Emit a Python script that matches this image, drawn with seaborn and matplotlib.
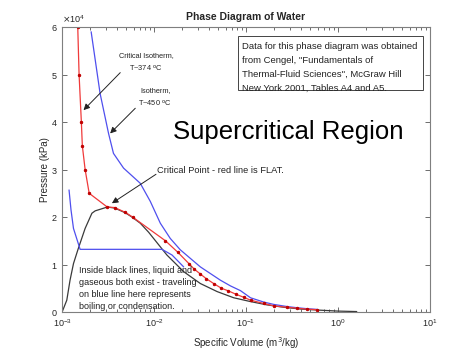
import numpy as np
import pandas as pd
import matplotlib
matplotlib.use("Agg")
import matplotlib.pyplot as plt
from matplotlib.patches import Rectangle
import seaborn as sns

# specific volume (m3/kg) and pressure (kPa)
# critical isotherm, T~374 C
crit_v = [1.48e-3, 1.53e-3, 1.62e-3, 1.66e-3, 1.78e-3, 1.97e-3, 3.1e-3, 3.72e-3,
          4.86e-3, 5.84e-3, 1.33e-2, 1.81e-2, 2.42e-2, 2.75e-2, 3.19e-2, 3.71e-2,
          4.45e-2, 5.41e-2, 6.34e-2, 7.88e-2, 9.46e-2, 0.112, 0.156, 0.201,
          0.281, 0.361, 0.464, 0.586]
crit_p = [6.0e4, 5.0e4, 4.0e4, 3.5e4, 3.0e4, 2.5e4, 2.21e4, 2.2e4,
          2.1e4, 2.0e4, 1.5e4, 1.26e4, 1.01e4, 0.9e4, 0.8e4, 0.7e4,
          0.6e4, 0.5e4, 0.45e4, 0.37e4, 0.31e4, 0.25e4, 0.18e4, 0.13e4,
          0.1e4, 0.08e4, 0.06e4, 0.05e4]

# isotherm T~450 C
iso450_v = [2.07e-3, 2.59e-3, 3.2e-3, 3.62e-3, 4.66e-3, 7.08e-3, 9.1e-3, 1.17e-2,
            1.5e-2, 1.93e-2, 2.48e-2, 3.19e-2, 4.1e-2, 5.27e-2, 6.78e-2, 8.71e-2,
            0.112, 0.156, 0.201, 0.281, 0.361, 0.464, 0.6]
iso450_p = [5.9e4, 4.6e4, 3.76e4, 3.34e4, 3.03e4, 2.71e4, 2.33e4, 1.87e4,
            1.55e4, 1.31e4, 1.13e4, 0.95e4, 0.81e4, 0.67e4, 0.55e4, 0.45e4,
            0.3e4, 0.21e4, 0.16e4, 0.115e4, 0.09e4, 0.07e4, 0.055e4]

# lower isotherm crossing the two-phase region
iso_low_v = [1.19e-3, 1.25e-3, 1.33e-3, 1.57e-3, 1.22e-2, 1.57e-2, 2.1e-2]
iso_low_p = [2.57e4, 2.15e4, 1.76e4, 1.32e4, 1.32e4, 1.2e4, 0.95e4]

# saturation dome
dome_v = [1.0e-3, 1.125e-3, 1.22e-3, 1.33e-3, 1.49e-3, 1.78e-3, 2.11e-3, 2.29e-3,
          3.1e-3, 3.72e-3, 4.86e-3, 5.75e-3, 7.08e-3, 8.73e-3, 1.38e-2, 2.1e-2,
          3.19e-2, 4.86e-2, 7.36e-2, 0.112, 0.17, 0.258, 0.393, 0.597, 1.0, 1.6]
dome_p = [0.0, 0.25e4, 0.67e4, 1.02e4, 1.32e4, 1.76e4, 2.08e4, 2.13e4,
          2.21e4, 2.19e4, 2.09e4, 2.0e4, 1.87e4, 1.68e4, 1.2e4, 0.85e4,
          0.6e4, 0.43e4, 0.3e4, 0.22e4, 0.15e4, 0.1e4, 0.063e4, 0.042e4, 0.02e4, 0.01e4]

y_ticks = [0, 1e4, 2e4, 3e4, 4e4, 5e4, 6e4]

sns.set_theme(style="ticks")
plt.rcParams['font.family'] = ['Liberation Sans', 'DejaVu Sans']
plt.rcParams['axes.edgecolor'] = '#7f7f7f'
plt.rcParams['axes.linewidth'] = 0.8

fig = plt.figure(figsize=(4.74, 3.51), dpi=100)
ax = fig.add_axes([0.131, 0.111, 0.776, 0.812])

sns.lineplot(x=dome_v, y=dome_p, sort=False, estimator=None, color='#3a3a3a', lw=0.9, ax=ax)
sns.lineplot(x=iso_low_v, y=iso_low_p, sort=False, estimator=None, color='#4f4fee', lw=0.9, ax=ax)
sns.lineplot(x=iso450_v, y=iso450_p, sort=False, estimator=None, color='#4f4fee', lw=0.9, ax=ax)
sns.lineplot(x=crit_v, y=crit_p, sort=False, estimator=None, color='#f03a3a', lw=0.9,
             marker='o', markersize=1.7, markerfacecolor='#c00000', markeredgecolor='#c00000', ax=ax)

ax.set_xscale('log')
ax.set_xlim(1e-3, 1e1)
ax.set_ylim(0, 6e4)
ax.set_yticks(y_ticks)
ax.ticklabel_format(axis='y', style='sci', scilimits=(4, 4), useMathText=True)
ax.yaxis.get_offset_text().set_fontsize(6.5)
ax.tick_params(which='both', direction='in', top=True, right=True, labelsize=6.5,
               color='#555555', width=0.6)
ax.tick_params(axis='x', pad=4)
ax.tick_params(axis='y', pad=3)
ax.tick_params(which='major', length=3.5)
ax.tick_params(which='minor', length=2)

ax.set_title('Phase Diagram of Water', fontsize=7.5, fontweight='bold', pad=5)
ax.set_xlabel('Specific Volume (m$^3$/kg)', fontsize=7, labelpad=4)
ax.set_ylabel('Pressure (kPa)', fontsize=7, labelpad=1)

arrow = dict(arrowstyle='-|>', color='#222222', lw=0.7, mutation_scale=9, shrinkA=0, shrinkB=0)
txt = dict(fontsize=5.3, color='#222222')

ax.text(8.2e-3, 5.39e4, 'Critical Isotherm,', ha='center', va='center', **txt)
ax.text(8.2e-3, 5.13e4, 'T~374 $^{\\mathrm{o}}$C', ha='center', va='center', **txt)
ax.annotate('', xy=(1.71e-3, 4.25e4), xytext=(4.29e-3, 5.04e4), arrowprops=arrow)

ax.text(1.03e-2, 4.66e4, 'Isotherm,', ha='center', va='center', **txt)
ax.text(1.03e-2, 4.40e4, 'T~450 $^{\\mathrm{o}}$C', ha='center', va='center', **txt)
ax.annotate('', xy=(3.33e-3, 3.76e4), xytext=(6.25e-3, 4.29e4), arrowprops=arrow)

ax.text(1.08e-2, 2.99e4, 'Critical Point - red line is FLAT.', ha='left', va='center',
        fontsize=6.7, color='#222222')
ax.annotate('', xy=(3.48e-3, 2.29e4), xytext=(1.05e-2, 2.9e4), arrowprops=arrow)

ax.text(0.302, 0.633, 'Supercritical Region', transform=ax.transAxes, ha='left', va='center',
        fontsize=18.5, color='black')

ax.add_patch(Rectangle((0.479, 0.779), 0.503, 0.19, transform=ax.transAxes,
                       fill=False, edgecolor='#444444', lw=0.7))
ax.text(0.488, 0.948, 'Data for this phase diagram was obtained\n'
        'from Cengel, "Fundamentals of\n'
        'Thermal-Fluid Sciences", McGraw Hill\n'
        'New York 2001, Tables A4 and A5.',
        transform=ax.transAxes, ha='left', va='top', fontsize=6.8, color='#222222',
        linespacing=1.72)

ax.text(0.045, 0.084, 'Inside black lines, liquid and\n'
        'gaseous both exist - traveling\n'
        'on blue line here represents\n'
        'boiling or condensation.',
        transform=ax.transAxes, ha='left', va='center', fontsize=6.5, color='#222222',
        linespacing=1.42)

fig.savefig('out.png', dpi=100)
